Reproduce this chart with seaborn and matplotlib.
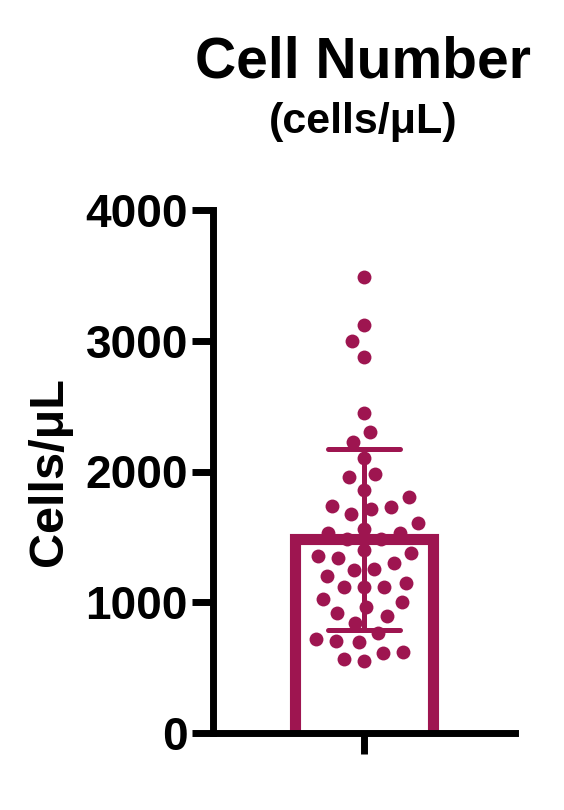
import numpy as np
import pandas as pd
import matplotlib
matplotlib.use('Agg')
import matplotlib.pyplot as plt
import seaborn as sns

# Cell counts (cells/uL)
cell_counts = [3488, 3120, 2998, 2876, 2447, 2302, 2226, 2103, 1958, 1981,
               1858, 1805, 1736, 1713, 1728, 1675, 1606, 1560, 1530, 1530,
               1484, 1484, 1400, 1377, 1354, 1338, 1300, 1254, 1246, 1201,
               1117, 1147, 1117, 1117, 1002, 964, 1025, 918, 895, 841,
               765, 696, 704, 719, 612, 620, 566, 551]
group = [''] * len(cell_counts)
y_ticks = [0, 1000, 2000, 3000, 4000]

df = pd.DataFrame({'group': group, 'cells': cell_counts})

sns.set_style('ticks')
plt.rcParams['font.family'] = ['Liberation Sans', 'DejaVu Sans']
plt.rcParams['font.weight'] = 'bold'
plt.rcParams['text.color'] = 'black'
plt.rcParams['axes.labelcolor'] = 'black'
plt.rcParams['xtick.color'] = 'black'
plt.rcParams['ytick.color'] = 'black'

color = '#9E1550'

fig = plt.figure(figsize=(5.64, 8.10), dpi=100)
ax = fig.add_axes([213 / 564, 77 / 810, 302 / 564, 523 / 810])

# bar = mean, error bar = SD
sns.barplot(data=df, x='group', y='cells', errorbar='sd', width=0.46,
            color='white', edgecolor=color, linewidth=8,
            err_kws={'color': color, 'linewidth': 3.6}, capsize=0.24,
            ax=ax, zorder=1)
# push the bar's bottom edge below the axis so only the sides show
for p in ax.patches:
    h = p.get_height()
    p.set_y(-200)
    p.set_height(h + 200)

# transparent edge just spreads the swarm a bit
sns.swarmplot(data=df, x='group', y='cells', color=color, size=10,
              edgecolor=(1, 1, 1, 0), linewidth=4, ax=ax, zorder=2)

ax.set_ylim(0, 4000)
ax.set_xlim(-0.5, 0.5)
ax.set_yticks(y_ticks)
ax.set_yticklabels([str(t) for t in y_ticks], fontsize=33, fontweight='bold')
ax.set_xticklabels([''])
ax.set_xlabel('')
ax.set_ylabel('Cells/μL', fontsize=35, fontweight='bold', labelpad=10)

for side in ['top', 'right']:
    ax.spines[side].set_visible(False)
for side in ['left', 'bottom']:
    ax.spines[side].set_linewidth(5)
    ax.spines[side].set_color('black')
    ax.spines[side].set_zorder(5)
ax.tick_params(axis='both', length=15, width=5, color='black', pad=3)

fig.text(363 / 564, 1 - 62 / 810, 'Cell Number', ha='center', va='center',
         fontsize=41, fontweight='bold')
fig.text(363 / 564, 1 - 122 / 810, '(cells/μL)', ha='center', va='center',
         fontsize=31, fontweight='bold')

fig.savefig('out.png', dpi=100)
